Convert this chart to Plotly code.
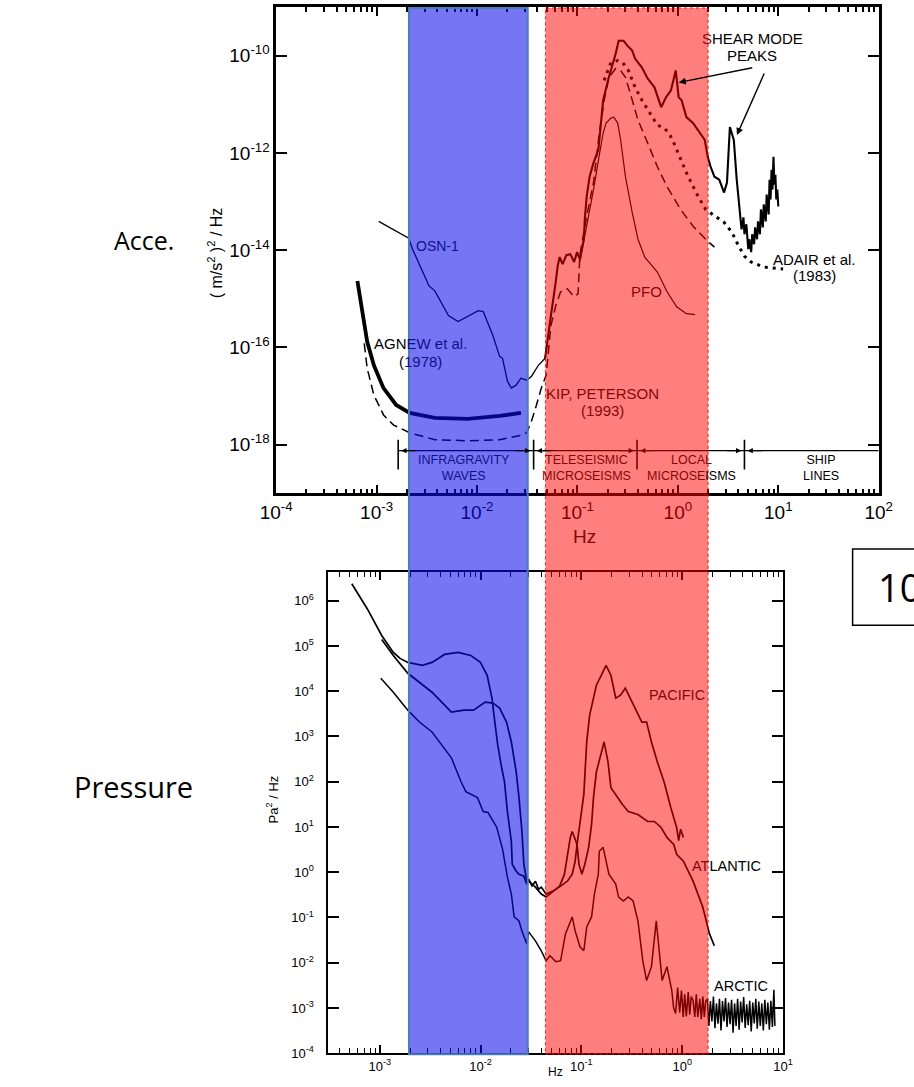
import numpy as np
import plotly.graph_objects as go

# ------------------------------------------------------------------
# Seafloor acceleration noise spectra (values are log10 Hz / log10 PSD)
# ------------------------------------------------------------------
osn1_lf_log_hz = [-2.979, -2.680, -2.642, -2.478, -2.420, -2.285, -2.189, -2.092, -1.987, -1.938,
                  -1.842, -1.775, -1.746, -1.697, -1.659, -1.611, -1.563, -1.505, -1.457, -1.389,
                  -1.341, -1.322]
osn1_lf_log_psd = [-13.408, -13.755, -13.980, -14.735, -14.837, -15.347, -15.469, -15.367, -15.245, -15.265,
                   -15.755, -16.184, -16.224, -16.694, -16.837, -16.776, -16.633, -16.673, -16.592, -16.367,
                   -16.265, -16.224]

osn1_hf_log_hz = [-1.322, -1.293, -1.264, -1.216, -1.197, -1.177, -1.148, -1.110, -1.071, -1.033,
                  -1.004, -0.975, -0.936, -0.927, -0.908, -0.879, -0.840, -0.792, -0.744, -0.696,
                  -0.619, -0.590, -0.541, -0.503, -0.455, -0.426, -0.358, -0.301, -0.233, -0.166,
                  -0.118, -0.069, -0.021, 0.008, 0.037, 0.085, 0.152, 0.220, 0.268, 0.297,
                  0.326, 0.364, 0.412, 0.460, 0.489, 0.518, 0.557, 0.586,
                  0.615, 0.634, 0.653, 0.663, 0.682, 0.701, 0.711, 0.730, 0.740, 0.759,
                  0.769, 0.788, 0.798, 0.817, 0.827, 0.846, 0.855, 0.875, 0.884, 0.904,
                  0.913, 0.923, 0.933, 0.942, 0.952, 0.961, 0.971, 0.980, 0.990, 1.000]
osn1_hf_log_psd = [-16.224, -15.755, -15.347, -14.653, -14.327, -14.143, -14.286, -14.102, -14.082, -14.245,
                   -14.041, -14.184, -13.776, -13.367, -12.898, -12.490, -12.204, -11.939, -10.918, -10.510,
                   -9.959, -9.694, -9.694, -9.796, -9.898, -10.061, -10.245, -10.469, -10.653, -11.061,
                   -10.857, -10.714, -10.306, -10.857, -10.918, -11.265, -11.388, -11.592, -11.735, -12.082,
                   -12.286, -12.490, -12.551, -12.816, -12.612, -11.469, -11.735, -12.551,
                   -13.224, -13.571, -13.327, -13.673, -13.469, -13.980, -13.776, -14.041, -13.673, -13.878,
                   -13.531, -13.776, -13.408, -13.673, -13.163, -13.531, -13.061, -13.408, -12.857, -13.265,
                   -12.551, -12.959, -12.347, -12.755, -12.082, -12.653, -12.449, -12.959, -12.755, -13.102]

agnew_log_hz = [-3.191, -3.152, -3.094, -3.027, -2.931, -2.805, -2.671, -2.420, -2.092, -1.775, -1.563]
agnew_log_psd = [-14.633, -15.143, -15.878, -16.367, -16.837, -17.184, -17.347, -17.449, -17.469, -17.408, -17.347]

kip_log_hz = [-3.123, -3.094, -3.027, -2.931, -2.834, -2.671, -2.420, -2.092, -1.775, -1.582,
              -1.505, -1.457, -1.408, -1.360, -1.312, -1.293, -1.264, -1.216, -1.168, -1.100,
              -1.033, -0.994, -0.975, -0.908, -0.840, -0.782, -0.734, -0.686, -0.619, -0.570,
              -0.522, -0.474, -0.397, -0.301, -0.204, -0.108, 0.027, 0.152, 0.277, 0.364]
kip_log_psd = [-15.918, -16.429, -16.980, -17.388, -17.592, -17.755, -17.898, -17.918, -17.898, -17.816,
               -17.755, -17.510, -17.184, -16.837, -16.571, -16.163, -15.551, -15.143, -14.857, -14.796,
               -14.959, -14.898, -14.082, -13.306, -12.612, -11.592, -10.918, -10.449, -10.265, -10.306,
               -10.449, -10.776, -11.327, -11.796, -12.286, -12.694, -13.163, -13.510, -13.776, -13.939]

pfo_log_hz = [-0.975, -0.908, -0.840, -0.782, -0.744, -0.715, -0.667, -0.638, -0.599, -0.570,
              -0.522, -0.455, -0.397, -0.330, -0.204, -0.108, -0.012, 0.085, 0.171]
pfo_log_psd = [-14.224, -13.531, -12.755, -12.041, -11.592, -11.388, -11.286, -11.265, -11.388, -11.735,
               -12.490, -13.224, -13.776, -14.143, -14.449, -14.857, -15.163, -15.306, -15.327]

adair_log_hz = [-0.734, -0.667, -0.599, -0.551, -0.493, -0.426, -0.358, -0.281, -0.204, -0.137,
                -0.089, -0.040, 0.027, 0.085, 0.181, 0.277, 0.374, 0.460, 0.538, 0.605,
                0.663, 0.730, 0.855, 1.048]
adair_log_psd = [-10.510, -10.143, -10.102, -10.143, -10.306, -10.653, -10.918, -11.184, -11.429, -11.490,
                 -11.592, -11.796, -12.143, -12.408, -12.816, -13.163, -13.306, -13.429, -13.633, -13.918,
                 -14.122, -14.245, -14.347, -14.388]

# shear-mode peaks pointed at (indices into the OSN-1 high-frequency record)
shear_peak_index = [32, 45]

# noise-band boundaries (Hz) and the level of the boundary marker line
band_edges_hz = [0.00164, 0.0366, 0.392, 4.60]
band_marker_psd = 7.55e-19
band_bar_psd = [3.1e-19, 1.26e-18]
band_names = ["INFRAGRAVITY<br>WAVES", "TELESEISMIC<br>MICROSEISMS",
              "LOCAL<br>MICROSE<span style='color:black'>ISMS</span>", "SHIP<br>LINES"]
band_label_log_hz = [-2.131, -0.907, 0.133, 1.424]
band_label_log_psd = -18.469

# ------------------------------------------------------------------
# Seafloor pressure spectra
# ------------------------------------------------------------------
pacific_log_hz = [-3.278, -3.125, -2.981, -2.866, -2.799, -2.722, -2.578, -2.482, -2.357, -2.223,
                  -2.098, -2.002, -1.935, -1.887, -1.859, -1.830, -1.791, -1.763, -1.734, -1.695,
                  -1.686, -1.647, -1.619, -1.571, -1.542,
                  -1.523, -1.490, -1.456, -1.425, -1.398, -1.350, -1.283, -1.206, -1.139, -1.091,
                  -1.062, -1.043, -1.014, -0.976, -0.947, -0.918, -0.880, -0.851, -0.803, -0.755,
                  -0.707, -0.659, -0.612, -0.564, -0.516, -0.468, -0.400, -0.353, -0.305, -0.247,
                  -0.180, -0.113, -0.055, -0.035, -0.015, 0.012]
pacific_log_psd = [6.374, 5.824, 5.231, 4.857, 4.725, 4.637, 4.571, 4.637, 4.813, 4.857,
                   4.791, 4.637, 4.352, 3.846, 3.319, 2.813, 2.308, 2.000, 1.341, 0.681,
                   0.176, 0.022, -0.044, -0.088, -0.264,
                   -0.154, -0.300, -0.200, -0.380, -0.330, -0.484, -0.418, -0.308, -0.198, -0.044,
                   0.242, 0.615, 1.121, 1.714, 2.879, 3.473, 3.846, 4.132, 4.352, 4.571,
                   4.352, 3.846, 3.912, 4.066, 3.846, 3.626, 3.319, 3.319, 2.879, 2.440,
                   2.000, 1.429, 0.989, 0.700, 0.950, 0.769]

atlantic_log_hz = [-2.981, -2.866, -2.722, -2.482, -2.290, -2.165, -2.070, -1.954, -1.878, -1.811,
                   -1.743, -1.695, -1.647, -1.619, -1.590, -1.571, -1.542, -1.523, -1.456, -1.398,
                   -1.350, -1.283, -1.216, -1.168, -1.139, -1.110, -1.091, -1.043, -1.024, -0.995,
                   -0.966, -0.928, -0.899, -0.880, -0.851, -0.803, -0.775, -0.736, -0.707, -0.659,
                   -0.592, -0.535, -0.439, -0.343, -0.276, -0.209, -0.151, -0.084, -0.055, 0.012,
                   0.108, 0.204, 0.271, 0.319]
atlantic_log_psd = [5.143, 4.791, 4.396, 3.978, 3.538, 3.582, 3.582, 3.758, 3.736, 3.626,
                    3.319, 2.879, 2.220, 1.648, 0.901, 0.176, -0.198, -0.198, -0.330, -0.484,
                    -0.549, -0.418, -0.308, -0.044, 0.396, 0.769, 0.901, 0.615, 0.176, -0.044,
                    0.176, 0.549, 1.055, 1.648, 2.220, 2.659, 2.879, 2.440, 1.868, 1.714,
                    1.495, 1.341, 1.275, 1.121, 1.121, 0.989, 0.769, 0.615, 0.396, 0.242,
                    -0.198, -0.769, -1.363, -1.626]

arctic_log_hz = [-2.990, -2.866, -2.722, -2.607, -2.482, -2.386, -2.290, -2.194, -2.146, -2.031,
                 -1.974, -1.926, -1.839, -1.782, -1.734, -1.695, -1.667, -1.619, -1.590, -1.542,
                 -1.523, -1.456, -1.398, -1.350, -1.312, -1.254, -1.206, -1.158, -1.091, -1.062,
                 -1.014, -0.976, -0.947, -0.899, -0.871, -0.832, -0.822, -0.784, -0.755, -0.727,
                 -0.659, -0.631, -0.583, -0.535, -0.487, -0.439, -0.391, -0.353, -0.305, -0.257,
                 -0.228, -0.199, -0.151, -0.103, -0.085, -0.065, -0.045, -0.025, -0.007, 0.010,
                 0.025, 0.041, 0.060, 0.075, 0.090, 0.108, 0.125, 0.140, 0.155, 0.175,
                 0.190, 0.205, 0.220, 0.233]
arctic_log_psd = [4.286, 3.978, 3.582, 3.319, 3.099, 2.813, 2.527, 2.000, 1.780, 1.648,
                  1.341, 1.319, 0.989, 0.505, -0.110, -0.484, -0.989, -1.077, -1.297, -1.582,
                  -1.319, -1.516, -1.736, -1.956, -1.846, -1.978, -1.956, -1.363, -0.989, -1.297,
                  -1.648, -1.736, -1.209, -0.989, -0.484, -0.044, 0.462, 0.549, 0.242, -0.044,
                  -0.264, -0.549, -0.637, -0.549, -0.637, -1.077, -1.956, -2.396, -2.088, -1.077,
                  -1.736, -2.396, -2.088, -2.615, -3.000, -3.121, -2.550, -3.100, -2.615, -3.200,
                  -2.700, -3.187, -2.650, -3.150, -2.750, -2.835, -3.200, -2.700, -3.200, -2.800,
                  -3.250, -2.750, -3.200, -2.850]
arctic_floor_log_hz = [0.250, 0.265, 0.280, 0.295, 0.310, 0.325, 0.340, 0.355, 0.370, 0.385,
                       0.400, 0.415, 0.430, 0.445, 0.460, 0.475, 0.490, 0.505, 0.520, 0.535,
                       0.550, 0.565, 0.580, 0.595, 0.610, 0.625, 0.640, 0.655, 0.670, 0.685,
                       0.700, 0.715, 0.730, 0.745, 0.760, 0.775, 0.790, 0.805, 0.820, 0.835,
                       0.850, 0.865, 0.880, 0.895, 0.910, 0.920]
arctic_floor_log_psd = [-2.80, -3.40, -2.85, -3.30, -2.75, -3.45, -2.90, -3.35, -2.80, -3.50,
                        -2.85, -3.30, -2.78, -3.42, -2.88, -3.36, -2.82, -3.55, -2.90, -3.40,
                        -2.80, -3.48, -2.86, -3.32, -2.76, -3.44, -2.92, -3.38, -2.84, -3.52,
                        -2.88, -3.34, -2.80, -3.46, -2.86, -3.40, -2.90, -3.50, -2.82, -3.36,
                        -2.88, -3.48, -2.84, -3.42, -2.60, -3.40]

# highlighted frequency ranges (Hz)
infragravity_band_hz = [0.0021, 0.032]
microseism_band_hz = [0.048, 2.0]

# ------------------------------------------------------------------
W, H = 914, 1087
FONT = "Liberation Sans, Arial, Helvetica, sans-serif"
CAPTION_FONT = "Open Sans, Liberation Sans, sans-serif"
NAVY = "#10108a"
MAROON = "#850808"


def px_x(p):
    return p / W


def px_y(p):
    return 1 - p / H


def to_hz(vals):
    return np.power(10.0, np.asarray(vals, dtype=float))


fig = go.Figure()


def add_line(lx, ly, axes, width, dash="solid"):
    xa, ya = axes
    fig.add_trace(go.Scatter(
        x=to_hz(lx), y=to_hz(ly), xaxis=xa, yaxis=ya, mode="lines",
        line=dict(color="black", width=width, dash=dash),
        hoverinfo="skip", showlegend=False))


TOP = ("x", "y")
BOT = ("x2", "y2")

add_line(agnew_log_hz, agnew_log_psd, TOP, 3.8)
add_line(kip_log_hz, kip_log_psd, TOP, 1.5, "9px,5px")
add_line(adair_log_hz, adair_log_psd, TOP, 3, "3px,5px")
add_line(pfo_log_hz, pfo_log_psd, TOP, 1.2)
add_line(osn1_lf_log_hz, osn1_lf_log_psd, TOP, 1.3)
add_line(osn1_hf_log_hz, osn1_hf_log_psd, TOP, 2.1)

add_line(pacific_log_hz, pacific_log_psd, BOT, 1.7)
add_line(atlantic_log_hz, atlantic_log_psd, BOT, 1.7)
add_line(arctic_log_hz + arctic_floor_log_hz, arctic_log_psd + arctic_floor_log_psd, BOT, 1.5)


def sup(e):
    return f"10<sup>{e}</sup>"


top_minor = [m * 10.0 ** e for e in range(-4, 2) for m in range(2, 10)]
bot_minor = [m * 10.0 ** e for e in range(-4, 1) for m in range(2, 10) if m * 10.0 ** e > 3.1e-4]

common_axis = dict(showgrid=False, zeroline=False, showline=True, linecolor="black",
                   mirror="ticks", ticks="inside", tickcolor="black")

fig.update_layout(
    width=W, height=H, margin=dict(l=0, r=0, t=0, b=0),
    paper_bgcolor="white", plot_bgcolor="white", showlegend=False,
    font=dict(family=FONT, color="black"),
    xaxis=dict(**common_axis, type="log", range=[-4, 2], anchor="y",
               domain=[px_x(269), px_x(892)], linewidth=2.5, tickwidth=2, ticklen=9,
               tickvals=[10.0 ** e for e in range(-4, 3)],
               ticktext=[sup(e) for e in range(-4, 3)],
               tickfont=dict(size=19, family=FONT),
               minor=dict(tickvals=top_minor, ticks="inside", ticklen=5, tickwidth=1.5,
                          tickcolor="black")),
    yaxis=dict(**common_axis, type="log", range=[-19, -9], anchor="x",
               domain=[px_y(497), px_y(7)], linewidth=2.5, tickwidth=2, ticklen=11,
               tickvals=[10.0 ** e for e in range(-18, -9, 2)],
               ticktext=[sup(e) for e in range(-18, -9, 2)],
               tickfont=dict(size=19, family=FONT)),
    xaxis2=dict(**common_axis, type="log", range=[-3.51, 1.0], anchor="y2",
                domain=[px_x(323), px_x(793)], linewidth=2, tickwidth=1.5, ticklen=8,
                tickvals=[10.0 ** e for e in range(-3, 2)],
                ticktext=[sup(e) for e in range(-3, 2)],
                tickfont=dict(size=13, family=FONT),
                minor=dict(tickvals=bot_minor, ticks="inside", ticklen=5, tickwidth=1.2,
                           tickcolor="black")),
    yaxis2=dict(**common_axis, type="log", range=[-4, 6.64], anchor="x2",
                domain=[px_y(1061), px_y(576)], linewidth=2, tickwidth=1.5, ticklen=11,
                tickvals=[10.0 ** e for e in range(-4, 7)],
                ticktext=[sup(e) for e in range(-4, 7)],
                tickfont=dict(size=13, family=FONT), ticklabelstandoff=10),
)

shapes = []
# band boundary markers in the acceleration panel
shapes.append(dict(type="line", xref="x", yref="y", x0=band_edges_hz[0], x1=100.0,
                   y0=band_marker_psd, y1=band_marker_psd, layer="below",
                   line=dict(color="black", width=1.3)))
for edge in band_edges_hz:
    shapes.append(dict(type="line", xref="x", yref="y", x0=edge, x1=edge,
                       y0=band_bar_psd[0], y1=band_bar_psd[1], layer="below",
                       line=dict(color="black", width=1.6)))

# highlighted frequency bands spanning both panels
band_y0, band_y1 = px_y(1062), px_y(8)
shapes.append(dict(type="rect", xref="x", yref="paper",
                   x0=infragravity_band_hz[0], x1=infragravity_band_hz[1], y0=band_y0, y1=band_y1,
                   fillcolor="rgba(10,10,235,0.56)", line=dict(color="#4a7ebb", width=2), layer="above"))
shapes.append(dict(type="rect", xref="x", yref="paper",
                   x0=microseism_band_hz[0], x1=microseism_band_hz[1], y0=band_y0, y1=band_y1,
                   fillcolor="rgba(255,0,0,0.5)", line=dict(color="rgba(255,0,0,0.9)", width=1, dash="dot"),
                   layer="above"))

# boxed label at the right edge
shapes.append(dict(type="rect", xref="paper", yref="paper", x0=px_x(865), x1=px_x(930),
                   y0=px_y(630), y1=px_y(553), line=dict(color="black", width=1.5),
                   fillcolor="rgba(0,0,0,0)"))

fig.update_layout(shapes=shapes)


def tint(log_f):
    f = 10.0 ** log_f
    if infragravity_band_hz[0] <= f <= infragravity_band_hz[1]:
        return NAVY
    if microseism_band_hz[0] <= f <= microseism_band_hz[1]:
        return MAROON
    return "black"


ann = []


def label(text, lx, ly, axes, size, color="black", **kw):
    xa, ya = axes
    ann.append(dict(text=text, x=lx, y=ly, xref=xa, yref=ya, showarrow=False,
                    xanchor="center", yanchor="middle",
                    font=dict(size=size, color=color, family=FONT), **kw))


def paper_text(text, x, y, size, color="black", family=FONT, **kw):
    opts = dict(xanchor="center", yanchor="middle")
    opts.update(kw)
    ann.append(dict(text=text, x=px_x(x), y=px_y(y), xref="paper", yref="paper",
                    showarrow=False, font=dict(size=size, family=family, color=color), **opts))


# acceleration panel labels
label("OSN-1", -2.391, -13.918, TOP, 14, NAVY)
label(f"AGN<span style='color:{NAVY}'>EW et al.</span>", -2.565, -15.918, TOP, 15)
label(f"(<span style='color:{NAVY}'>1978)</span>", -2.565, -16.286, TOP, 15)
label("KIP, PETERSON", -0.753, -16.939, TOP, 15, MAROON)
label("(1993)", -0.753, -17.306, TOP, 15, MAROON)
label("PFO", -0.310, -14.857, TOP, 15, MAROON)
label("ADAIR et al.", 1.356, -14.184, TOP, 15)
label("(1983)", 1.356, -14.531, TOP, 15)
label(f"<span style='color:{MAROON}'>S</span>HEAR MODE", 0.740, -9.653, TOP, 15)
label("PEAKS", 0.740, -10.0, TOP, 15)

for name, lx in zip(band_names, band_label_log_hz):
    label(name, lx, band_label_log_psd, TOP, 12.5, tint(lx))

# arrowheads on the band boundary marker
mk_y = np.log10(band_marker_psd)
for i, edge in enumerate(band_edges_hz):
    le = np.log10(edge)
    ann.append(dict(text="", x=le, y=mk_y, xref="x", yref="y", showarrow=True,
                    ax=16, ay=0, xshift=3, arrowhead=2, arrowsize=0.9, arrowwidth=1.2,
                    arrowcolor=tint(le + 0.02)))
    if i + 1 < len(band_edges_hz):
        nxt = np.log10(band_edges_hz[i + 1])
        ann.append(dict(text="", x=nxt, y=mk_y, xref="x", yref="y", showarrow=True,
                        ax=-16, ay=0, xshift=-3, arrowhead=2, arrowsize=0.9, arrowwidth=1.2,
                        arrowcolor=tint(nxt - 0.02)))

# arrows to the shear-mode peaks
for idx, (dx, dy, ax, ay) in zip(shear_peak_index, [(3, -12, 75, -15), (7, -8, 28, -63)]):
    ann.append(dict(text="", x=osn1_hf_log_hz[idx], y=osn1_hf_log_psd[idx], xref="x", yref="y",
                    xshift=dx, yshift=dy, showarrow=True, ax=ax, ay=ay,
                    arrowhead=2, arrowsize=1, arrowwidth=1.4, arrowcolor="black"))

# pressure panel labels
label("PACIFIC", -0.055, 3.912, BOT, 14.5, MAROON)
label(f"<span style='color:{MAROON}'>AT</span>LANTIC", 0.444, 0.132, BOT, 14.5)
label("ARCTIC", 0.588, -2.505, BOT, 14.5)

# axis titles
paper_text("( m/s<sup>2</sup> )<sup>2</sup> / Hz", 206, 255, 16, textangle=-90)
paper_text("Hz", 588, 540, 19, MAROON)
paper_text("Pa<sup>2</sup> / Hz", 265, 805, 13, textangle=-90)
paper_text("Hz", 558, 1080, 12)

# panel captions
paper_text("Acce.", 132, 242, 25, family=CAPTION_FONT)
paper_text("Pressure", 122, 792, 29, family=CAPTION_FONT)
paper_text("10", 889, 591, 38, family=CAPTION_FONT, xanchor="left")

fig.update_layout(annotations=ann)

fig.write_html("out.html")
